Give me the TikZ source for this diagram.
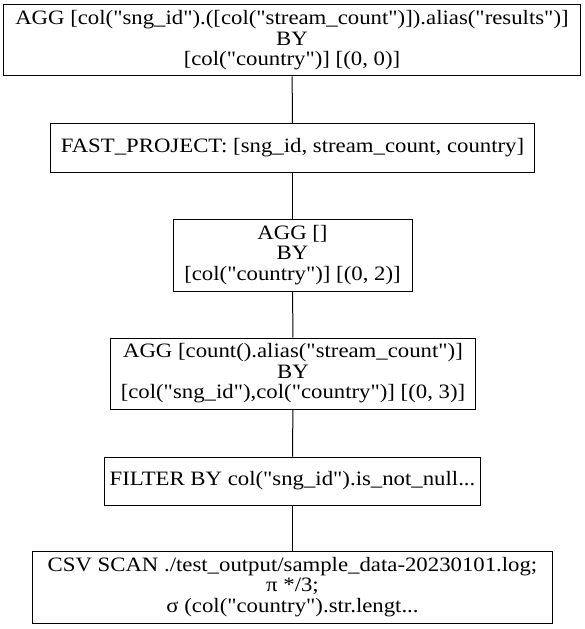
\documentclass[tikz,border=0pt]{standalone}
\usepackage{fontspec}
\newfontfamily\planfont{Liberation Serif}[FakeStretch=1.115]
\usepackage{tikz}
\usetikzlibrary{positioning}

\tikzset{
  planbox/.style={draw, line width=1bp, align=center, inner sep=0pt,
    font=\planfont\fontsize{20.5}{20.5}\selectfont},
  planedge/.style={line width=1bp}
}

\begin{document}
\begin{tikzpicture}[x=1bp, y=-1bp]
\useasboundingbox (0,0) rectangle (585,629);
% Plan nodes, top to bottom
\node[planbox, minimum width=576bp, minimum height=71bp] (aggres) at (292, 40.5)
  {AGG [col("sng\_id").([col("stream\_count")]).alias("results")]\\BY\\{}[col("country")] [(0, 0)]};
\node[planbox, minimum width=483bp, minimum height=48bp] (proj) at (292.5, 148)
  {FAST\_PROJECT: [sng\_id, stream\_count, country]};
\node[planbox, minimum width=239bp, minimum height=72bp] (aggctry) at (292.5, 255)
  {AGG []\\BY\\{}[col("country")] [(0, 2)]};
\node[planbox, minimum width=364bp, minimum height=71bp] (aggcnt) at (293, 373.5)
  {AGG [count().alias("stream\_count")]\\BY\\{}[col("sng\_id"),col("country")] [(0, 3)]};
\node[planbox, minimum width=375bp, minimum height=48bp] (filt) at (292.5, 481)
  {FILTER BY col("sng\_id").is\_not\_null...};
\node[planbox, minimum width=519bp, minimum height=72bp] (scan) at (292.5, 587)
  {CSV SCAN ./test\_output/sample\_data-20230101.log;\\π */3;\\σ (col("country").str.lengt...};
% Edges
\draw[planedge] (aggres) -- (proj);
\draw[planedge] (proj) -- (aggctry);
\draw[planedge] (aggctry) -- (aggcnt);
\draw[planedge] (aggcnt) -- (filt);
\draw[planedge] (filt) -- (scan);
\end{tikzpicture}
\end{document}
